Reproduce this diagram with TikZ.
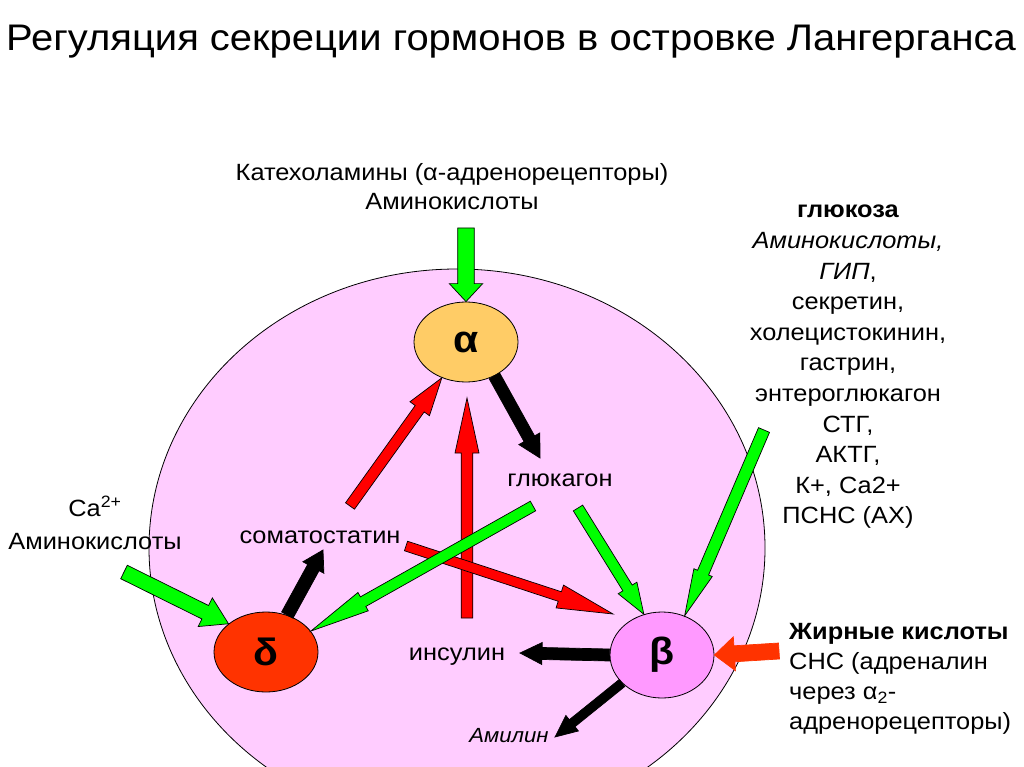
\documentclass[tikz,border=0pt]{standalone}
\usepackage{fontspec}
\setmainfont{Liberation Sans}[FakeStretch=1.08]
\usetikzlibrary{calc,shapes.geometric,positioning}

\definecolor{isletpink}{HTML}{FFCCFF}
\definecolor{alphacol}{HTML}{FFCC66}
\definecolor{deltacol}{HTML}{FF3300}
\definecolor{betacol}{HTML}{FF99FF}
\definecolor{stimgreen}{HTML}{00FF00}
\definecolor{inhibred}{HTML}{FF0000}
\definecolor{fatred}{HTML}{FF3300}

\tikzset{
  cell/.style={ellipse, draw, line width=0.8pt, minimum width=104pt, minimum height=80pt, inner sep=0pt, font=\fontsize{38}{38}\selectfont\bfseries},
  txt/.style={inner sep=0pt, font=\fontsize{23.5}{30}\selectfont},
  greenarr/.style={draw=black, fill=stimgreen, line width=0.7pt},
  redarr/.style={draw=black, fill=inhibred, line width=0.7pt},
  blackarr/.style={draw=black, fill=black, line width=0.7pt},
  fatarr/.style={draw=fatred, fill=fatred, line width=0.7pt},
}

% block arrow: style, tail, tip, shaft half width, head half width, head length
\newcommand\fatarrow[6]{%
  \draw[#1] ($(#2)!#4pt!90:(#3)$) -- ($(#3)!#6pt!(#2)!#4pt!-90:(#2)$)
    -- ($(#3)!#6pt!(#2)!#5pt!-90:(#2)$) -- (#3)
    -- ($(#3)!#6pt!(#2)!#5pt!90:(#2)$) -- ($(#3)!#6pt!(#2)!#4pt!90:(#2)$)
    -- ($(#2)!#4pt!-90:(#3)$) -- cycle;}

\begin{document}
\begin{tikzpicture}[x=1pt, y=-1pt]
\useasboundingbox (0,0) rectangle (1024,767);
\clip (0,0) rectangle (1024,767);
\fill[white] (0,0) rectangle (1024,767);
\draw[fill=isletpink, line width=0.8pt] (457,548) ellipse [x radius=308, y radius=279];

\node[font=\fontsize{37}{40}\selectfont] (title) at (511,42) {Регуляция секреции гормонов в островке Лангерганса};

\node[cell, fill=alphacol] (alpha) at (466,342) {α};
\node[cell, fill=deltacol] (delta) at (266,652) {δ};
\node[cell, fill=betacol, minimum height=86pt] (beta) at (662,655) {β};

\node[txt, align=center, font=\fontsize{23.5}{29}\selectfont] (catech) at (452,187) {Катехоламины (α-адренорецепторы)\\Аминокислоты};
\node[txt, align=center, font=\fontsize{23.5}{30.6}\selectfont] (betastim) at (848,367) {\textbf{глюкоза}\\\textit{Аминокислоты,}\\\textit{ГИП},\\секретин,\\холецистокинин,\\гастрин,\\энтероглюкагон\\СТГ,\\АКТГ,\\К+, Са2+\\ПСНС (АХ)};
\node[txt, align=center, font=\fontsize{23.5}{33}\selectfont] (deltastim) at (95,523) {Ca\textsuperscript{2+}\\Аминокислоты};
\node[txt] (somato) at (320,537) {соматостатин};
\node[txt] (glucagon) at (560,480) {глюкагон};
\node[txt] (insulin) at (457,657) {инсулин};
\node[txt, font=\fontsize{20.5}{24}\selectfont\itshape] (amylin) at (509,736) {Амилин};
\node[txt, align=left, anchor=north west] (betainhib) at (789,623) {\textbf{Жирные кислоты}\\СНС (адреналин\\через α\textsubscript{2}-\\адренорецепторы)};

\coordinate (catTail) at (466,228);
\coordinate (somTail) at (350,506);
\coordinate (insTail) at (467,618);
\coordinate (insTip) at (467,398);
\coordinate (gluTip) at (540,458);
\coordinate (somR) at (406,546);
\coordinate (somBtip) at (613,614);
\coordinate (gluL) at (533,506);
\coordinate (gluR) at (578,508);
\coordinate (rightTail) at (764,430);
\coordinate (somTip) at (323,550);
\coordinate (caTail) at (124,572);
\coordinate (insTip2) at (520,653);
\coordinate (amyTip) at (555,737);
\coordinate (fatTail) at (779,651);

\fatarrow{greenarr}{catTail}{alpha.north}{8.3}{16.7}{18}
\fatarrow{redarr}{somTail}{alpha.236}{5.5}{12}{38}
\fatarrow{redarr}{insTail}{insTip}{5.8}{12}{55}
\fatarrow{blackarr}{alpha.310}{gluTip}{6}{12}{22}
\fatarrow{redarr}{somR}{somBtip}{5}{12}{56}
\fatarrow{greenarr}{gluL}{delta.25}{5.5}{10.5}{60}
\fatarrow{greenarr}{gluR}{beta.114}{5.5}{11}{31}
\fatarrow{greenarr}{rightTail}{beta.60}{6}{10}{47}
\fatarrow{blackarr}{delta.60}{somTip}{6.5}{12}{20}
\fatarrow{greenarr}{caTail}{delta.143}{7.5}{16}{26}
\fatarrow{blackarr}{beta.west}{insTip2}{6}{11}{22}
\fatarrow{blackarr}{beta.215}{amyTip}{4.5}{10}{22}
\fatarrow{fatarr}{fatTail}{beta.east}{8}{17}{20}
\end{tikzpicture}
\end{document}
